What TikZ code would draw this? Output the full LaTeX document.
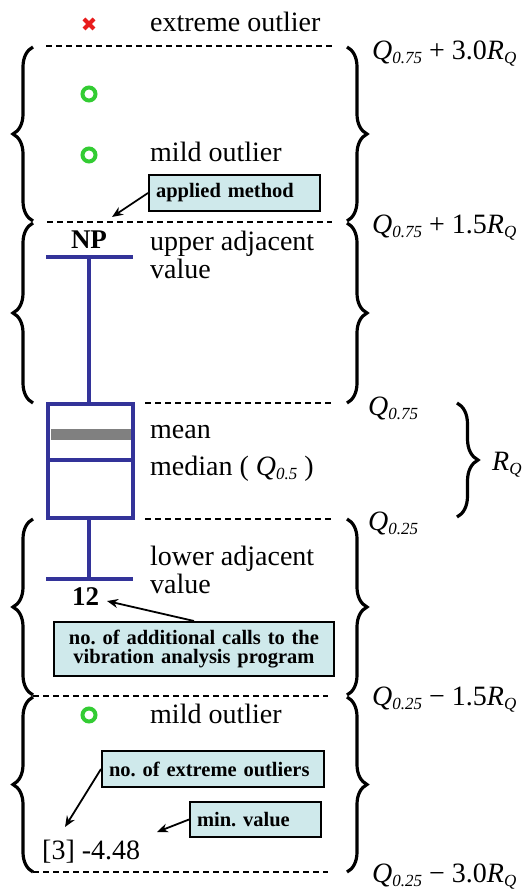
\documentclass[tikz,border=0pt]{standalone}
\usepackage{fontspec}
\setmainfont{Liberation Serif}
\usetikzlibrary{decorations.pathreplacing,arrows.meta}
\definecolor{boxblue}{HTML}{333399}
\definecolor{ogreen}{HTML}{33CC33}
\definecolor{ored}{HTML}{E81C1C}
\definecolor{boxcyan}{HTML}{CFE9EB}
\definecolor{meangray}{HTML}{808080}
\newcommand\qsub[1]{\raisebox{-4pt}{\fontsize{17}{17}\selectfont\itshape #1}}
\newcommand\qq[1]{\textit{Q}\qsub{#1}}
\begin{document}
\begin{tikzpicture}[x=1pt,y=-1pt,
  lbl/.style={font=\fontsize{28}{30}\selectfont, inner sep=0pt, anchor=base west},
  bnum/.style={font=\bfseries\fontsize{27}{28}\selectfont, inner sep=0pt, anchor=base},
  infobox/.style={draw=black, line width=2pt, fill=boxcyan, font=\bfseries\fontsize{20.5}{19}\selectfont, inner xsep=7pt, inner ysep=0pt, anchor=north west, align=left},
  dline/.style={line width=1.8pt, dash pattern=on 6pt off 4pt},
  bracestyle/.style={decorate, decoration={brace, amplitude=20pt}, line width=3.2pt},
  plotline/.style={draw=boxblue, line width=4.5pt},
  mildo/.style={draw=ogreen, line width=4pt},
  pointer/.style={line width=1.8pt, -{Stealth[length=11pt,width=9pt]}}
]
\useasboundingbox (0,0) rectangle (530,890);

% dashed limit lines
\draw[dline] (46,46) -- (332,46);
\draw[dline] (47,222) -- (332,222);
\draw[dline] (145,403) -- (333,403);
\draw[dline] (145,519) -- (333,519);
\draw[dline] (33,696) -- (328,696);
\draw[dline] (33,872) -- (328,872);

% left braces
\draw[bracestyle] (33,221) -- (33,47);
\draw[bracestyle] (33,403) -- (33,223);
\draw[bracestyle] (33,695) -- (33,519);
\draw[bracestyle] (33,872) -- (33,697);
% right braces
\draw[bracestyle] (347,47) -- (347,221);
\draw[bracestyle] (347,223) -- (347,403);
\draw[bracestyle] (347,519) -- (347,695);
\draw[bracestyle] (347,697) -- (347,872);
% R_Q brace
\draw[decorate, decoration={brace, amplitude=21pt}, line width=3.2pt] (457,403) -- (457,517);

% box plot
\draw[plotline] (46,257) -- (133,257);
\draw[plotline] (89,257) -- (89,404);
\fill[meangray] (50.5,429) rectangle (130.5,440);
\draw[plotline] (48,404) rectangle (133,518);
\draw[plotline] (48,460) -- (133,460);
\draw[plotline] (89,518) -- (89,579);
\draw[plotline] (46,579) -- (133,579);

% outlier markers
\draw[draw=ored, line width=4pt] (84,19) -- (94,29) (84,29) -- (94,19);
\draw[mildo] (89,94) circle (6.5);
\draw[mildo] (89,155) circle (6.5);
\draw[mildo] (89,715) circle (6.5);

% texts
\node[lbl] (ext) at (150,32) {extreme outlier};
\node[lbl] (mild1) at (150,162) {mild outlier};
\node[lbl] (upper1) at (150,251) {upper adjacent};
\node[lbl] (upper2) at (150,278) {value};
\node[lbl] (mean) at (150,438) {mean};
\node[lbl] (median) at (150,475) {median ( \qq{0.5} )};
\node[lbl] (lower1) at (150,565) {lower adjacent};
\node[lbl] (lower2) at (150,593) {value};
\node[lbl] (mild2) at (150,723) {mild outlier};
\node[lbl] (minv) at (42,859) {[3] -4.48};
\node[bnum] (np) at (89,249) {NP};
\node[bnum] (twelve) at (85.5,605) {12};

% quantile labels
\node[lbl] (q1) at (372,60) {\qq{0.75} + 3.0\textit{R}\qsub{Q}};
\node[lbl] (q2) at (372,234) {\qq{0.75} + 1.5\textit{R}\qsub{Q}};
\node[lbl] (q3) at (368,415) {\qq{0.75}};
\node[lbl] (q4) at (368,530) {\qq{0.25}};
\node[lbl] (rq) at (492,470) {\textit{R}\qsub{Q}};
\node[lbl] (q5) at (372,705) {\qq{0.25} − 1.5\textit{R}\qsub{Q}};
\node[lbl] (q6) at (372,882) {\qq{0.25} − 3.0\textit{R}\qsub{Q}};

% info boxes
\node[infobox, text width=157pt, minimum height=36pt] (am) at (148,174) {applied method};
\node[infobox, text width=266pt, minimum height=54pt, align=center] (calls) at (53,621) {no.\ of additional calls to the\\vibration analysis program};
\node[infobox, text width=208pt, minimum height=36pt] (eo) at (101,750) {no.\ of extreme outliers};
\node[infobox, text width=117pt, minimum height=35pt] (mv) at (189,801) {min.\ value};

% pointers
\coordinate (amtip) at (112,217);
\coordinate (twtip) at (107,601);
\coordinate (eotip) at (65,827);
\coordinate (mvtip) at (157,832);
\draw[pointer] (am.west) -- (amtip);
\draw[pointer] (calls.north) -- (twtip);
\draw[pointer] (eo.west) -- (eotip);
\draw[pointer] (mv.west) -- (mvtip);
\end{tikzpicture}
\end{document}
